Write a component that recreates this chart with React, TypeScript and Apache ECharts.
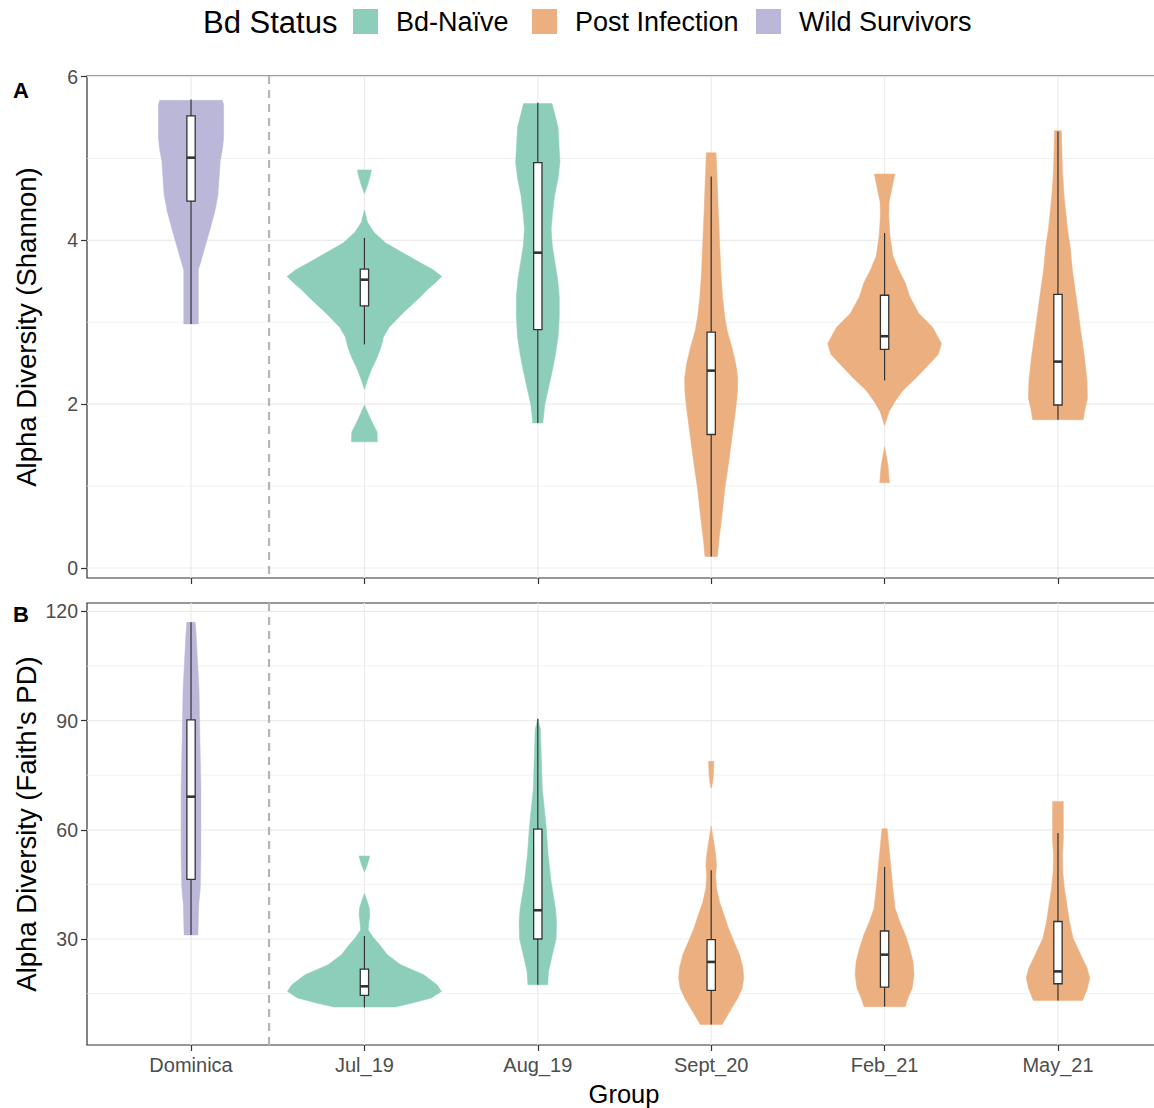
import React, { useEffect, useRef } from "react";
import * as echarts from "echarts";

// ---------- data ----------
const groups = ["Dominica", "Jul_19", "Aug_19", "Sept_20", "Feb_21", "May_21"];
const groupStatus = ["Wild Survivors", "Bd-Naïve", "Bd-Naïve", "Post Infection", "Post Infection", "Post Infection"];
const statuses = ["Bd-Naïve", "Post Infection", "Wild Survivors"];
const statusColors = ["#8DCEBB", "#ECAF80", "#BAB7D9"];

// Shannon: violin outlines per group, segments of [value, half-width in group units]
const shannonViolins: number[][][][] = [
  [[[5.71, 0.180], [5.66, 0.188], [5.25, 0.188], [5.10, 0.180], [4.96, 0.168], [4.55, 0.155], [4.35, 0.137], [4.14, 0.110], [3.93, 0.082], [3.73, 0.055], [3.64, 0.042], [2.98, 0.042]]],
  [
    [[4.86, 0.040], [4.80, 0.035], [4.70, 0.022], [4.57, 0]],
    [[4.37, 0], [4.22, 0.018], [4.10, 0.055], [3.97, 0.121], [3.85, 0.221], [3.73, 0.320], [3.64, 0.397], [3.56, 0.446], [3.48, 0.408], [3.40, 0.364], [3.31, 0.322], [3.11, 0.221], [2.94, 0.143], [2.82, 0.110], [2.69, 0.095], [2.57, 0.073], [2.41, 0.038], [2.28, 0.015], [2.18, 0]],
    [[1.99, 0], [1.83, 0.033], [1.66, 0.073], [1.54, 0.075]],
  ],
  [[[5.67, 0.082], [5.38, 0.117], [5.09, 0.124], [4.96, 0.128], [4.76, 0.117], [4.55, 0.097], [4.35, 0.086], [4.14, 0.077], [3.93, 0.084], [3.73, 0.099], [3.52, 0.115], [3.31, 0.124], [3.07, 0.124], [2.82, 0.117], [2.61, 0.102], [2.41, 0.084], [2.20, 0.062], [1.99, 0.040], [1.77, 0.029]]],
  [[[5.07, 0.028], [4.80, 0.033], [4.40, 0.040], [4.00, 0.048], [3.60, 0.056], [3.30, 0.066], [3.07, 0.078], [2.90, 0.092], [2.69, 0.120], [2.49, 0.142], [2.32, 0.153], [2.16, 0.152], [1.95, 0.142], [1.66, 0.124], [1.25, 0.098], [0.96, 0.078], [0.60, 0.060], [0.35, 0.045], [0.14, 0.036]]],
  [
    [[4.81, 0.059], [4.63, 0.042], [4.47, 0.026], [4.30, 0.024], [4.06, 0.031], [3.81, 0.048], [3.64, 0.081], [3.48, 0.120], [3.31, 0.146], [3.11, 0.197], [2.94, 0.277], [2.74, 0.328], [2.61, 0.310], [2.49, 0.258], [2.32, 0.181], [2.16, 0.103], [2.03, 0.059], [1.91, 0.026], [1.74, 0]],
    [[1.48, 0], [1.25, 0.020], [1.04, 0.028]],
  ],
  [[[5.34, 0.020], [5.13, 0.022], [4.84, 0.026], [4.55, 0.035], [4.14, 0.055], [3.93, 0.070], [3.64, 0.083], [3.31, 0.105], [2.90, 0.131], [2.57, 0.153], [2.28, 0.168], [2.07, 0.170], [1.95, 0.157], [1.81, 0.146]]],
];
// [lower whisker, Q1, median, Q3, upper whisker]
const shannonBoxes = [
  [2.98, 4.48, 5.01, 5.52, 5.72],
  [2.73, 3.20, 3.52, 3.65, 4.03],
  [1.77, 2.91, 3.85, 4.95, 5.68],
  [0.14, 1.63, 2.41, 2.88, 4.78],
  [2.29, 2.67, 2.83, 3.33, 4.09],
  [1.81, 1.99, 2.52, 3.34, 5.33],
];

const faithViolins: number[][][][] = [
  [[[117.0, 0.024], [114.0, 0.029], [105.8, 0.038], [98.5, 0.046], [85.0, 0.051], [71.2, 0.057], [53.0, 0.057], [43.9, 0.053], [39.3, 0.044], [31.1, 0.040]]],
  [
    [[52.8, 0.031], [50.5, 0.018], [48.4, 0]],
    [[42.5, 0], [40.5, 0.015], [38.5, 0.028], [36.6, 0.031], [34.5, 0.025], [32.5, 0.022], [30.5, 0.050], [28.4, 0.088], [25.7, 0.132], [22.9, 0.210], [20.2, 0.342], [17.4, 0.419], [15.6, 0.444], [13.8, 0.386], [12.4, 0.276], [11.3, 0.177]],
  ],
  [[[90.5, 0], [87.6, 0.015], [80.3, 0.020], [71.2, 0.026], [63.9, 0.042], [60.3, 0.049], [53.0, 0.060], [45.7, 0.077], [38.4, 0.102], [34.8, 0.108], [30.2, 0.106], [25.7, 0.084], [21.1, 0.062], [17.4, 0.057]]],
  [
    [[78.8, 0.015], [75.5, 0.013], [73.0, 0.008], [71.4, 0]],
    [[61.0, 0], [56.6, 0.015], [53.0, 0.026], [50.2, 0.031], [47.5, 0.026], [43.9, 0.031], [40.2, 0.048], [36.6, 0.074], [32.9, 0.100], [29.3, 0.131], [25.7, 0.164], [22.0, 0.183], [19.3, 0.188], [16.5, 0.179], [13.8, 0.153], [11.1, 0.120], [8.3, 0.085], [6.5, 0.063]],
  ],
  [[[60.3, 0.015], [54.8, 0.026], [48.4, 0.039], [43.9, 0.048], [38.4, 0.061], [34.8, 0.087], [31.1, 0.120], [27.5, 0.144], [23.8, 0.164], [20.2, 0.170], [16.5, 0.159], [13.8, 0.135], [11.4, 0.118]]],
  [[[67.8, 0.031], [57.5, 0.031], [53.0, 0.026], [48.4, 0.028], [43.9, 0.037], [39.3, 0.052], [34.8, 0.066], [30.2, 0.087], [25.7, 0.131], [22.0, 0.168], [19.3, 0.183], [16.5, 0.170], [13.1, 0.142]]],
];
const faithBoxes = [
  [31.1, 46.4, 69.1, 90.2, 117.0],
  [11.2, 14.5, 17.0, 21.7, 30.8],
  [17.4, 30.0, 37.9, 60.2, 90.5],
  [6.5, 15.9, 23.7, 29.8, 48.9],
  [11.4, 16.8, 25.7, 32.2, 49.8],
  [13.1, 17.7, 21.1, 34.8, 59.1],
];

const shannonTicks = [0, 2, 4, 6];
const shannonMinor = [1, 3, 5];
const faithTicks = [30, 60, 90, 120];
const faithMinor = [15, 45, 75, 105];
const groupTicks = [1, 2, 3, 4, 5, 6];
const dividerAt = [1.45];

const FONT = "'Liberation Sans', Arial, sans-serif";

function gridLineSeries(panel: number, major: number[], minor: number[]) {
  const data: number[][] = [];
  major.forEach((v) => data.push([v, 0]));
  minor.forEach((v) => data.push([v, 1]));
  groupTicks.forEach((v) => data.push([v, 2]));
  dividerAt.forEach((v) => data.push([v, 3]));
  return {
    type: "custom",
    xAxisIndex: panel,
    yAxisIndex: panel,
    z: 1,
    silent: true,
    clip: true,
    encode: { x: -1, y: -1 },
    data,
    renderItem: (params: any, api: any) => {
      const v = api.value(0);
      const kind = api.value(1);
      const cs = params.coordSys;
      if (kind === 0 || kind === 1) {
        const y = api.coord([1, v])[1];
        return {
          type: "line",
          shape: { x1: cs.x, y1: y, x2: cs.x + cs.width, y2: y },
          style: { stroke: "#EBEBEB", lineWidth: kind === 0 ? 1.2 : 0.7 },
        };
      }
      const x = api.coord([v, panel === 0 ? 1 : 30])[0];
      if (kind === 2) {
        return {
          type: "line",
          shape: { x1: x, y1: cs.y, x2: x, y2: cs.y + cs.height },
          style: { stroke: "#EBEBEB", lineWidth: 1.2 },
        };
      }
      return {
        type: "line",
        z2: 5,
        shape: { x1: x, y1: cs.y, x2: x, y2: cs.y + cs.height },
        style: { stroke: "#B5B5B5", lineWidth: 2.2, lineDash: [8, 6] },
      };
    },
  };
}

function violinSeries(panel: number, statusIdx: number, violins: number[][][][], boxes: number[][]) {
  const color = statusColors[statusIdx];
  const data = groups
    .map((_, i) => i)
    .filter((i) => groupStatus[i] === statuses[statusIdx])
    .map((i) => [i + 1, boxes[i][2], i]);
  return {
    type: "custom",
    name: statuses[statusIdx],
    xAxisIndex: panel,
    yAxisIndex: panel,
    z: 3,
    silent: true,
    itemStyle: { color },
    encode: { x: 0, y: 1 },
    data,
    renderItem: (_params: any, api: any) => {
      const cx = api.value(0);
      const gi = api.value(2);
      const children: any[] = [];
      for (const seg of violins[gi]) {
        const right = seg.map(([v, h]) => api.coord([cx + h, v]));
        const left = seg.slice().reverse().map(([v, h]) => api.coord([cx - h, v]));
        children.push({
          type: "polygon",
          shape: { points: right.concat(left) },
          style: { fill: color, stroke: color, lineWidth: 0.5 },
        });
      }
      const [lo, q1, med, q3, hi] = boxes[gi];
      const bw = 0.024;
      const pTop = api.coord([cx, hi]);
      const pBot = api.coord([cx, lo]);
      children.push({
        type: "line",
        shape: { x1: pTop[0], y1: pTop[1], x2: pBot[0], y2: pBot[1] },
        style: { stroke: "#333333", lineWidth: 1.2 },
      });
      const a = api.coord([cx - bw, q3]);
      const b = api.coord([cx + bw, q1]);
      children.push({
        type: "rect",
        shape: { x: a[0], y: a[1], width: b[0] - a[0], height: b[1] - a[1] },
        style: { fill: "#FFFFFF", stroke: "#333333", lineWidth: 1.3 },
      });
      const m1 = api.coord([cx - bw, med]);
      const m2 = api.coord([cx + bw, med]);
      children.push({
        type: "line",
        shape: { x1: m1[0], y1: m1[1], x2: m2[0], y2: m2[1] },
        style: { stroke: "#333333", lineWidth: 2.6 },
      });
      return { type: "group", children };
    },
  };
}

function xAxis(panel: number, showLabels: boolean) {
  return {
    type: "value",
    gridIndex: panel,
    position: "bottom",
    min: 0.4,
    max: 6.6,
    splitLine: { show: false },
    axisLine: { show: false, onZero: false },
    axisTick: { show: true, inside: false, customValues: groupTicks, length: 6, lineStyle: { color: "#333333", width: 1.2 } },
    axisLabel: {
      show: showLabels,
      customValues: groupTicks,
      margin: 10,
      fontSize: 20,
      fontFamily: FONT,
      color: "#4D4D4D",
      formatter: (v: number) => groups[Math.round(v) - 1] || "",
    },
  };
}

function yAxis(panel: number, min: number, max: number, ticks: number[]) {
  return {
    type: "value",
    gridIndex: panel,
    position: "left",
    min,
    max,
    splitLine: { show: false },
    axisLine: { show: false, onZero: false },
    axisTick: { show: true, inside: false, customValues: ticks, length: 6, lineStyle: { color: "#333333", width: 1.2 } },
    axisLabel: {
      customValues: ticks,
      margin: 9,
      fontSize: 19.5,
      fontFamily: FONT,
      color: "#4D4D4D",
    },
  };
}

function legendGraphics() {
  const items: any[] = [
    {
      type: "text",
      x: 203,
      y: 22,
      style: { text: "Bd Status", fontSize: 31, fontFamily: FONT, fill: "#000000", textAlign: "left", textVerticalAlign: "middle" },
    },
  ];
  const squareX = [353, 532, 756];
  statuses.forEach((s, i) => {
    items.push({
      type: "rect",
      shape: { x: squareX[i], y: 9, width: 25, height: 25 },
      style: { fill: statusColors[i] },
    });
    items.push({
      type: "text",
      x: squareX[i] + 43,
      y: 22,
      style: { text: s, fontSize: 27, fontFamily: FONT, fill: "#000000", textAlign: "left", textVerticalAlign: "middle" },
    });
  });
  return items;
}

export default function App() {
  const ref = useRef<HTMLDivElement>(null);
  useEffect(() => {
    if (!ref.current) return;
    const chart = echarts.init(ref.current, undefined, { renderer: "svg" });
    const option: any = {
      animation: false,
      backgroundColor: "#FFFFFF",
      grid: [
        { left: 87, top: 76, width: 1075, height: 502, show: true, borderColor: "#333333", borderWidth: 1.2, backgroundColor: "transparent" },
        { left: 87, top: 603, width: 1075, height: 442, show: true, borderColor: "#333333", borderWidth: 1.2, backgroundColor: "transparent" },
      ],
      xAxis: [xAxis(0, false), xAxis(1, true)],
      yAxis: [yAxis(0, -0.122, 6.007, shannonTicks), yAxis(1, 0.88, 122.3, faithTicks)],
      series: [
        gridLineSeries(0, shannonTicks, shannonMinor),
        gridLineSeries(1, faithTicks, faithMinor),
        ...statuses.map((_, i) => violinSeries(0, i, shannonViolins, shannonBoxes)),
        ...statuses.map((_, i) => violinSeries(1, i, faithViolins, faithBoxes)),
      ],
      graphic: [
        ...legendGraphics(),
        {
          type: "text",
          x: 13,
          y: 90,
          style: { text: "A", fontSize: 22, fontWeight: "bold", fontFamily: FONT, fill: "#000000", textAlign: "left", textVerticalAlign: "middle" },
        },
        {
          type: "text",
          x: 13,
          y: 614,
          style: { text: "B", fontSize: 22, fontWeight: "bold", fontFamily: FONT, fill: "#000000", textAlign: "left", textVerticalAlign: "middle" },
        },
        {
          type: "text",
          x: 26,
          y: 327,
          rotation: Math.PI / 2,
          style: { text: "Alpha Diversity (Shannon)", fontSize: 27.5, fontFamily: FONT, fill: "#000000", textAlign: "center", textVerticalAlign: "middle" },
        },
        {
          type: "text",
          x: 26,
          y: 824,
          rotation: Math.PI / 2,
          style: { text: "Alpha Diversity (Faith's PD)", fontSize: 27.5, fontFamily: FONT, fill: "#000000", textAlign: "center", textVerticalAlign: "middle" },
        },
        {
          type: "text",
          x: 624,
          y: 1094,
          style: { text: "Group", fontSize: 25.5, fontFamily: FONT, fill: "#000000", textAlign: "center", textVerticalAlign: "middle" },
        },
      ],
    };
    chart.setOption(option);
    return () => chart.dispose();
  }, []);
  return (
    <div style={{ position: "absolute", left: 0, top: 0, width: 1154, height: 1108, overflow: "hidden", background: "#FFFFFF" }}>
      <div ref={ref} style={{ width: 1172, height: 1108 }} />
    </div>
  );
}
